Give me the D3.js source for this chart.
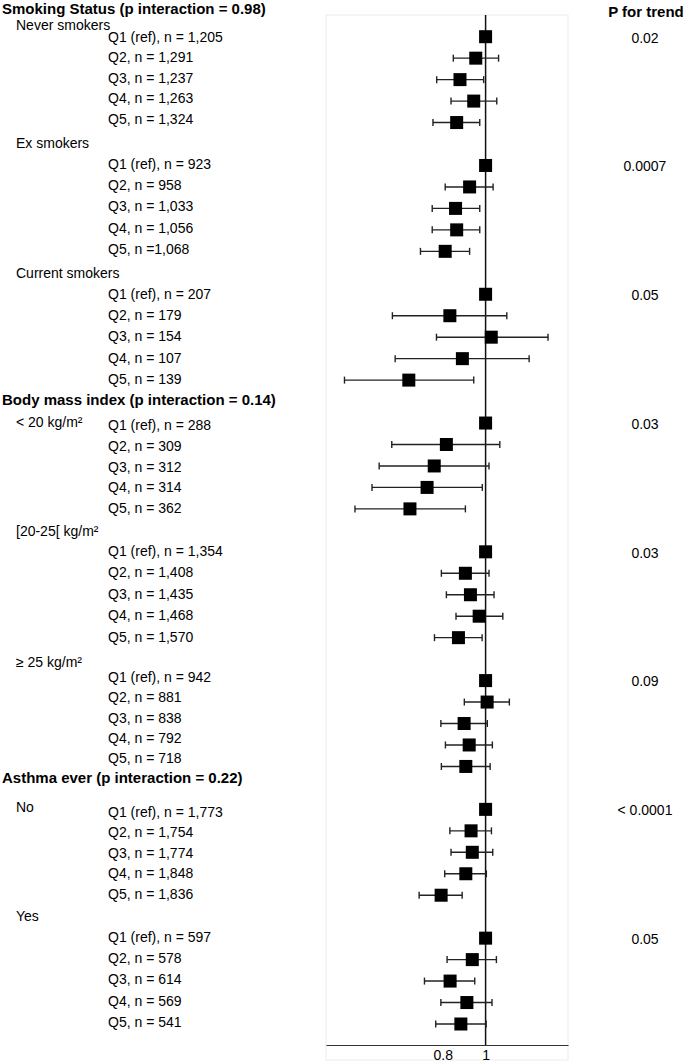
<!DOCTYPE html>
<html>
  <head>
    <meta charset="utf-8">
    <style>
      body { margin: 0; background: #ffffff; }
      svg text { font-family: "Liberation Sans", Arial, sans-serif; font-size: 14px; fill: #000; }
      svg text.bold { font-size: 15px; font-weight: bold; }
    </style>
  </head>
  <body>
    <svg id="workspace"></svg>
  </body>
</html>

<script src="https://d3js.org/d3.v7.min.js"></script>

<script>
  const WIDTH = 685
  const HEIGHT = 1062

  // section headers
  const HEADERS = ['Smoking Status (p interaction = 0.98)',
                   'Body mass index (p interaction = 0.14)',
                   'Asthma ever (p interaction = 0.22)']

  const SUBGROUPS = ['Never smokers', 'Ex smokers', 'Current smokers',
                     '< 20 kg/m²', '[20-25[ kg/m²', '≥ 25 kg/m²', 'No', 'Yes']

  const ROW_LABELS = [
    ['Q1 (ref), n = 1,205', 'Q2, n = 1,291', 'Q3, n = 1,237', 'Q4, n = 1,263', 'Q5, n = 1,324'],
    ['Q1 (ref), n = 923', 'Q2, n = 958', 'Q3, n = 1,033', 'Q4, n = 1,056', 'Q5, n =1,068'],
    ['Q1 (ref), n = 207', 'Q2, n = 179', 'Q3, n = 154', 'Q4, n = 107', 'Q5, n = 139'],
    ['Q1 (ref), n = 288', 'Q2, n = 309', 'Q3, n = 312', 'Q4, n = 314', 'Q5, n = 362'],
    ['Q1 (ref), n = 1,354', 'Q2, n = 1,408', 'Q3, n = 1,435', 'Q4, n = 1,468', 'Q5, n = 1,570'],
    ['Q1 (ref), n = 942', 'Q2, n = 881', 'Q3, n = 838', 'Q4, n = 792', 'Q5, n = 718'],
    ['Q1 (ref), n = 1,773', 'Q2, n = 1,754', 'Q3, n = 1,774', 'Q4, n = 1,848', 'Q5, n = 1,836'],
    ['Q1 (ref), n = 597', 'Q2, n = 578', 'Q3, n = 614', 'Q4, n = 569', 'Q5, n = 541']
  ]

  // estimates and 95% CI, Q1 is the reference
  const EST = [
    [1, 0.95, 0.875, 0.94, 0.86],
    [1, 0.92, 0.855, 0.86, 0.81],
    [1, 0.83, 1.03, 0.886, 0.67],
    [1, 0.815, 0.765, 0.737, 0.674],
    [1, 0.90, 0.924, 0.967, 0.868],
    [1, 1.008, 0.894, 0.918, 0.902],
    [1, 0.927, 0.933, 0.902, 0.793],
    [1, 0.933, 0.831, 0.907, 0.879]
  ]
  const LOWER = [
    [null, 0.845, 0.775, 0.835, 0.76],
    [null, 0.81, 0.757, 0.757, 0.712],
    [null, 0.615, 0.774, 0.624, 0.479],
    [null, 0.613, 0.574, 0.553, 0.506],
    [null, 0.794, 0.815, 0.857, 0.766],
    [null, 0.895, 0.792, 0.811, 0.794],
    [null, 0.83, 0.835, 0.808, 0.707],
    [null, 0.818, 0.727, 0.792, 0.771]
  ]
  const UPPER = [
    [null, 1.07, 0.99, 1.06, 0.97],
    [null, 1.04, 0.97, 0.97, 0.92],
    [null, 1.117, 1.385, 1.255, 0.94],
    [null, 1.077, 1.018, 0.983, 0.90],
    [null, 1.018, 1.045, 1.094, 0.982],
    [null, 1.132, 1.009, 1.036, 1.024],
    [null, 1.031, 1.038, 1.004, 0.885],
    [null, 1.058, 0.945, 1.034, 1.003]
  ]

  const P_TREND = ['0.02', '0.0007', '0.05', '0.03', '0.03', '0.09', '< 0.0001', '0.05']
  const X_TICKS = [0.8, 1]

  // layout of the text column (the labels were placed by hand, not on the marker grid)
  const HEAD_Y = [9, 400, 777.5]
  const SUB_Y = [25, 143, 273, 422, 531, 662, 807, 916]
  const TEXT_TOP = [37, 164, 294, 425.5, 551, 677.3, 812, 937]
  const TEXT_STEP = [20.5, 21.25, 21.25, 20.6, 21.5, 20.25, 20.5, 21.25]
  const SLOTS_PER_GROUP = 6

  let svg = d3.select('#workspace')
    .attr('width', WIDTH)
    .attr('height', HEIGHT)

  let x = d3.scaleLog().domain([0.435, 1.537]).range([326, 568])
  let y = d3.scaleLinear().domain([0, 46]).range([36.7, 1024])

  // flatten the rows
  let rows = []
  for (let g = 0; g < EST.length; g++) {
    for (let r = 0; r < EST[g].length; r++) {
      rows.push({
        group: g,
        r: r,
        slot: g * SLOTS_PER_GROUP + r,
        label: ROW_LABELS[g][r],
        est: EST[g][r],
        lo: LOWER[g][r],
        hi: UPPER[g][r]
      })
    }
  }

  // plot frame
  svg.append('rect')
    .attr('x', 326)
    .attr('y', 15)
    .attr('width', 242)
    .attr('height', 1045)
    .attr('fill', 'none')
    .attr('stroke', '#ebebeb')
    .attr('stroke-width', 1)

  // reference line at 1
  svg.append('line')
    .attr('x1', x(1)).attr('x2', x(1))
    .attr('y1', 15).attr('y2', 1045)
    .attr('stroke', '#111')
    .attr('stroke-width', 1.5)

  // x axis
  let axis = svg.append('g')
    .attr('transform', 'translate(0,1045)')
    .call(d3.axisBottom(x).tickValues(X_TICKS).tickFormat(d3.format('')).tickSize(0).tickPadding(5))
  axis.select('.domain').attr('stroke', '#333').attr('stroke-width', 1.2)
  axis.selectAll('text')
    .style('font-family', '"Liberation Sans", Arial, sans-serif')
    .style('font-size', '14px')
    .attr('fill', '#000')

  // confidence intervals
  let ci = rows.filter(d => d.lo != null)
  svg.selectAll('line.ci')
    .data(ci)
    .enter()
    .append('line')
    .attr('class', 'ci')
    .attr('x1', d => x(d.lo))
    .attr('x2', d => x(d.hi))
    .attr('y1', d => y(d.slot))
    .attr('y2', d => y(d.slot))
    .attr('stroke', '#222')
    .attr('stroke-width', 1.4)
  ;['lo', 'hi'].forEach(function(k) {
    svg.selectAll('line.cap-' + k)
      .data(ci)
      .enter()
      .append('line')
      .attr('class', 'cap-' + k)
      .attr('x1', d => x(d[k]))
      .attr('x2', d => x(d[k]))
      .attr('y1', d => y(d.slot) - 3.5)
      .attr('y2', d => y(d.slot) + 3.5)
      .attr('stroke', '#222')
      .attr('stroke-width', 1.4)
  })

  // point estimates
  const SQ = 13
  svg.selectAll('rect.est')
    .data(rows)
    .enter()
    .append('rect')
    .attr('class', 'est')
    .attr('x', d => x(d.est) - SQ / 2)
    .attr('y', d => y(d.slot) - SQ / 2)
    .attr('width', SQ)
    .attr('height', SQ)
    .attr('fill', '#000')

  // row labels
  svg.selectAll('text.row')
    .data(rows)
    .enter()
    .append('text')
    .attr('class', 'row')
    .attr('x', 108)
    .attr('y', d => TEXT_TOP[d.group] + d.r * TEXT_STEP[d.group])
    .attr('dy', '0.35em')
    .text(d => d.label)

  // subgroup labels
  svg.selectAll('text.sub')
    .data(SUBGROUPS)
    .enter()
    .append('text')
    .attr('class', 'sub')
    .attr('x', 16)
    .attr('y', (d, i) => SUB_Y[i])
    .attr('dy', '0.35em')
    .text(d => d)

  // section headers
  svg.selectAll('text.head')
    .data(HEADERS)
    .enter()
    .append('text')
    .attr('class', 'head bold')
    .attr('x', 2)
    .attr('y', (d, i) => HEAD_Y[i])
    .attr('dy', '0.35em')
    .text(d => d)

  // p for trend column
  svg.append('text')
    .attr('class', 'bold')
    .attr('x', 646)
    .attr('y', 12)
    .attr('dy', '0.35em')
    .attr('text-anchor', 'middle')
    .text('P for trend')

  svg.selectAll('text.ptrend')
    .data(P_TREND)
    .enter()
    .append('text')
    .attr('class', 'ptrend')
    .attr('x', 645)
    .attr('y', (d, i) => y(i * SLOTS_PER_GROUP) + 1)
    .attr('dy', '0.35em')
    .attr('text-anchor', 'middle')
    .text(d => d)
</script>
